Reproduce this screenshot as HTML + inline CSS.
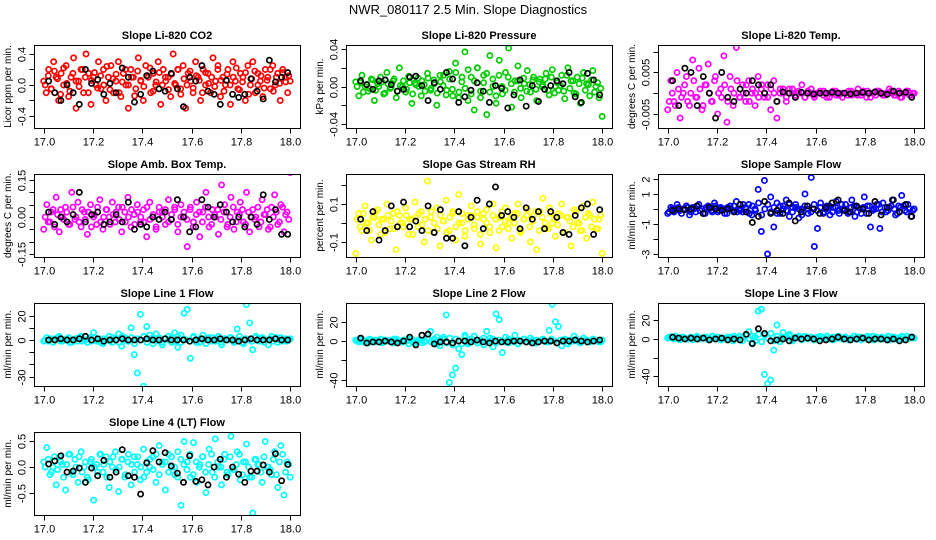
<!DOCTYPE html>
<html><head><meta charset="utf-8"><style>
body{margin:0;background:#fff;}
svg{display:block;font-family:"Liberation Sans",sans-serif;}
</style></head><body>
<svg id="chart" width="936" height="540" viewBox="0 0 936 540" xmlns="http://www.w3.org/2000/svg">
<rect width="936" height="540" fill="#fff"/>
<text x="468" y="14" text-anchor="middle" font-size="13">NWR_080117  2.5 Min. Slope Diagnostics</text>
</svg>
<script>
const xTicks = [17.0,17.2,17.4,17.6,17.8,18.0];
const xTickLabels = ["17.0","17.2","17.4","17.6","17.8","18.0"];

const co2Vals = [0.05,-0.1,0.2,-0.05,0.3,0.1,-0.2,0.15,0.0,0.25,-0.15,0.1,0.35,-0.3,0.05,0.2,-0.1,0.4,0.15,-0.25,0.1,0.0,0.3,-0.05,0.2,-0.2,0.1,0.25,-0.1,0.05,0.3,-0.15,0.15,0.0,-0.3,0.2,0.1,-0.05,0.35,0.05,-0.2,0.25,0.1,-0.1,0.15,0.0,0.3,-0.25,0.2,0.05,0.1,-0.15,0.4,0.0,0.2,-0.05,0.25,-0.3,0.15,0.05,-0.1,0.3,0.1,-0.2,0.2,0.0,0.15,-0.1,0.35,0.05,0.25,-0.15,0.1,0.0,0.2,-0.25,0.3,0.05,-0.05,0.15,0.1,-0.2,0.25,0.0,0.3,-0.1,0.15,0.05,-0.15,0.2,0.1,-0.05,0.25,0.0,0.15,-0.2,0.2,0.1,-0.1,0.05];
const co2Core = [0.0,0.12,-0.05,0.18,0.08,-0.12,0.22,0.02,-0.08,0.15,0.05,-0.02,0.2,0.1,-0.1,0.06,0.16,-0.04,0.12,0.0,0.24,-0.06,0.08,0.14,-0.1,0.04,0.2,0.0,0.1,-0.14,0.18,0.06,-0.02,0.12,0.22,-0.08,0.04,0.16,0.0,0.1,-0.06,0.14,0.02,0.2,-0.12,0.08,0.0,0.18,-0.04,0.12,0.06,-0.1,0.16,0.02,0.1,-0.02,0.2,0.06,-0.08,0.14,0.0,0.1,0.22,-0.06,0.04,0.16,-0.12,0.08,0.18,0.0,0.12,-0.04,0.06,0.2,-0.08,0.1,0.02,0.16,0.04,0.12];
const pressVals = [0.005,-0.01,0.012,0.0,-0.005,0.008,-0.015,0.003,0.01,-0.008,0.015,-0.002,0.006,-0.012,0.02,0.0,-0.006,0.011,-0.018,0.004,0.009,-0.01,0.002,0.014,-0.004,0.007,-0.02,0.012,0.001,-0.009,0.016,-0.003,0.025,-0.012,0.005,0.037,-0.015,0.01,-0.025,0.02,-0.005,0.012,-0.03,0.033,0.0,-0.018,0.028,-0.008,0.015,0.041,-0.022,0.006,0.022,-0.012,0.003,0.017,-0.006,0.01,-0.015,0.008,0.002,0.014,-0.009,0.018,0.0,-0.004,0.012,-0.013,0.02,0.006,-0.007,0.01,-0.018,0.015,0.003,-0.01,0.017,0.0,-0.012,-0.032];
const pressCore = [0.0,0.004,-0.006,0.002,-0.002,0.007,-0.004,0.0,0.005,-0.007,0.003,-0.001,0.008,-0.005,0.001,0.006,-0.003,0.004,-0.008,0.002,0.0,0.006,-0.005,0.009,-0.002,0.003,-0.007,0.005,0.012,-0.004,0.008,-0.01,0.015,-0.006,0.01,-0.002,0.018,-0.008,0.006,0.02,-0.012,0.004,0.014,-0.006,0.008,-0.01,0.012,0.0,-0.004,0.01,0.003,-0.006,0.006,-0.002,0.009,-0.005,0.002,0.007,-0.003,0.005,0.0,0.008,-0.004,0.01,-0.007,0.004,0.001,-0.005,0.012,-0.002,0.006,-0.008,0.003,0.009,-0.004,0.002,0.007,-0.006,0.004,-0.002];
const tempVals = [-0.004,0.003,-0.002,0.005,-0.006,0.0,0.004,-0.003,0.008,-0.001,0.006,-0.004,0.002,0.007,-0.002,0.003,-0.005,0.001,0.009,-0.007,0.004,-0.003,0.011,-0.001,0.002,-0.002,0.003,0.0,-0.003,0.004,0.001,-0.001,0.002,-0.004,0.003,-0.006,0.0,0.001,-0.002,0.0,0.001,-0.001,0.0,0.002,-0.001,0.0,0.001,-0.001,0.0,0.0,0.0005,-0.001,0.0,0.0005,-0.0005,0.0,-0.001,0.0,0.0005,-0.0005,0.0,0.001,-0.0005,0.0,0.0005,-0.001,0.0,0.0005,0.0,-0.0005,0.0,0.001,0.0,-0.0005,0.0005,-0.001,0.0,0.0005,-0.0005,0.0];
const tempCore = [-0.002,0.0,-0.003,0.001,-0.001,0.002,-0.002,0.0,0.003,-0.001,0.001,-0.003,0.002,0.0,-0.002,0.004,0.0,-0.001,0.002,-0.002,0.001,0.0,0.003,-0.001,0.0,0.002,-0.002,0.001,0.0,-0.001,0.002,0.0,-0.001,0.001,0.0,-0.002,0.001,0.0,-0.001,0.001,0.0,-0.0005,0.0005,0.0,-0.001,0.0005,0.0,-0.0005,0.0,0.0005,-0.0005,0.0,-0.001,0.0,0.0005,-0.0005,0.0,0.0,-0.0005,0.0005,0.0,-0.0005,0.0,0.0005,-0.001,0.0,0.0,-0.0005,0.0005,0.0,-0.0005,0.0,0.0005,-0.0005,0.0,-0.001,0.0,0.0005,-0.0005,0.0];
const ambVals = [-0.05,0.05,-0.02,0.03,0.08,-0.06,0.0,0.04,-0.03,0.1,-0.01,0.06,-0.04,0.02,-0.07,0.05,0.0,-0.03,0.07,-0.05,0.03,0.0,0.06,-0.02,0.04,-0.06,0.02,0.08,-0.04,0.01,0.05,-0.02,0.03,-0.08,0.06,0.0,-0.05,0.04,0.02,-0.03,0.07,-0.01,0.03,-0.06,0.05,0.0,-0.12,0.04,-0.02,0.06,-0.08,0.02,0.1,-0.04,0.03,0.0,-0.07,0.13,0.05,-0.03,0.08,-0.05,0.02,0.06,-0.02,0.1,-0.06,0.03,0.0,-0.04,0.07,0.01,-0.05,0.04,0.09,-0.03,0.05,-0.06,0.02,0.18];
const ambCore = [0.0,-0.02,0.02,-0.04,0.01,0.03,-0.01,0.02,-0.03,0.04,0.0,-0.02,0.03,-0.01,0.02,-0.04,0.01,0.04,-0.02,0.0,0.03,-0.03,0.01,0.02,-0.01,0.04,-0.02,0.0,0.03,-0.03,0.02,0.0,-0.02,0.04,-0.01,0.01,-0.04,0.02,0.0,0.03,-0.02,0.01,0.04,-0.03,0.0,0.02,-0.01,0.03,-0.04,0.01,0.02,-0.02,0.04,0.0,-0.03,0.01,0.03,-0.01,0.02,-0.04,0.0,0.04,-0.02,0.01,0.03,-0.03,0.02,0.0,-0.01,0.04,-0.02,0.01,0.03,-0.04,0.0,0.02,-0.02,0.04,0.01,-0.01];
const rhVals = [-0.16,0.05,-0.04,0.09,0.0,-0.09,0.03,0.07,-0.06,0.02,0.1,-0.03,0.05,-0.14,0.04,0.0,0.08,-0.06,0.02,0.11,-0.02,0.06,-0.1,0.22,0.03,-0.05,0.08,-0.12,0.01,0.12,-0.04,0.05,-0.09,0.15,0.0,-0.07,0.04,0.09,-0.03,0.06,-0.11,0.02,0.07,-0.05,0.1,-0.13,0.03,-0.02,0.08,0.0,-0.08,0.05,0.1,-0.04,0.02,0.07,-0.1,0.04,-0.14,0.06,0.13,-0.03,0.08,0.0,-0.07,0.05,0.1,-0.05,0.03,-0.12,0.07,0.0,-0.04,0.09,-0.08,0.04,0.11,-0.03,0.02,-0.16];
const rhCore = [0.02,-0.02,0.05,0.0,-0.04,0.03,0.06,-0.01,0.02,-0.05,0.04,0.01,-0.03,0.06,0.0,-0.02,0.04,0.02,-0.06,0.03,0.05,-0.01,0.02,-0.04,0.06,0.0,-0.03,0.04,0.01,-0.05,0.03,0.06,-0.02,0.0,0.05,-0.04,0.02,0.04,-0.01,0.03,-0.06,0.05,0.0,-0.02,0.04,0.02,-0.04,0.06,0.01,-0.03,0.03,0.0,0.05,-0.05,0.02,0.04,-0.02,0.01,0.06,-0.04,0.03,0.0,-0.03,0.05,0.02,-0.01,0.04,-0.05,0.03,0.01,-0.02,0.06,0.0,-0.04,0.03,0.05,-0.02,0.02,-0.03,0.04];
const sfVals = [-0.3,0.1,-0.2,0.3,-0.1,0.0,0.2,-0.4,0.1,-0.2,0.3,0.0,-0.3,0.2,-0.1,0.4,-0.2,0.1,0.0,-0.3,0.2,-0.1,0.5,0.0,-0.2,0.1,0.3,-0.4,0.0,1.3,-1.5,1.9,-3.0,0.8,-1.2,0.4,-0.3,0.2,0.6,-0.5,0.1,0.3,-0.6,0.0,1.0,-0.3,2.1,-2.5,-1.3,0.4,-0.2,0.2,-0.4,0.1,0.5,-0.3,0.0,0.3,-0.2,0.6,-0.5,0.1,-0.3,0.8,0.2,-1.2,0.0,0.3,-1.3,0.4,-0.2,0.1,0.6,-0.4,0.2,0.9,-0.1,0.3,-0.5,0.0];
const sfCore = [-0.2,0.0,-0.1,0.1,-0.3,0.0,0.1,-0.2,0.0,0.2,-0.1,-0.3,0.1,0.0,-0.2,0.2,-0.1,0.0,-0.3,0.1,0.0,0.2,-0.2,-0.1,0.3,0.0,-0.3,0.2,-0.1,0.4,-0.4,0.0,0.3,-0.2,0.1,-0.3,0.2,0.0,-0.1,0.3,-0.2,0.1,0.0,-0.4,0.2,0.0,-0.2,0.3,-0.1,0.1,-0.3,0.0,0.2,-0.2,0.1,-0.1,0.3,0.0,-0.3,0.1,0.2,-0.2,0.0,0.1,-0.3,0.2,-0.1,0.0,0.3,-0.2,0.1,-0.1,0.2,0.0,-0.3,0.1,0.2,-0.2,0.0,-0.1];
const l1Vals = [-1,2,0,-2,1,3,-1,0,2,-2,1,-1,3,0,-2,2,6,-1,1,-3,0,3,-2,1,5,-5,2,-1,10,-12,-27,21,-38,11,4,-3,5,2,-4,1,3,-2,6,-6,4,22,25,-15,3,-2,1,4,-3,0,2,-1,3,-4,1,0,2,-2,9,0,-3,29,14,-8,3,-1,2,0,-4,3,1,-2,2,0,-1,1];
const l1Core = [0,-1,1,0,2,-1,0,1,-2,0,1,2,-1,0,1,-1,2,0,-2,1,0,-1,2,1,-2,3,0,-1,2,-3,1,0,3,-2,1,2,-1,0,-2,1,0,2,-1,3,-2,1,0,-1,2,0,-2,1,0,2,-1,0,1,-2,1,0,2,-1,0,3,-2,1,0,-1,2,0,1,-2,0,1,-1,2,0,-1,1,0];
const l2Vals = [1,-1,2,0,-2,1,-1,0,2,-1,0,1,-2,2,0,-1,1,-3,2,-2,0,1,-1,3,10,-1,4,-5,2,27,-43,-35,-28,-8,-14,6,-3,2,5,-2,1,-4,10,3,-6,28,22,-12,4,-2,1,6,-3,0,2,-1,3,-2,1,0,2,-1,11,38,20,15,-5,2,-3,1,5,0,-2,3,1,-1,2,0,-1,1];
const l2Core = [0,1,-1,0,2,-1,1,0,-2,1,0,-1,2,0,-1,1,0,2,-1,0,1,-2,0,3,-1,2,-3,1,4,-2,3,-4,2,0,-3,4,-1,2,0,-2,1,3,-1,0,2,-2,1,0,-1,2,0,-1,1,0,2,-1,0,1,-2,0,1,0,-1,2,0,-2,1,0,1,-1,0,2,-1,0,1,-1,0,1,0,-1];
const l3Vals = [1,2,0,1,-1,2,0,1,-1,2,0,1,2,-1,0,1,2,-1,0,1,2,-2,1,3,-2,4,8,-4,2,30,32,-38,-48,-44,-12,15,-3,7,2,5,-2,1,3,-1,2,0,1,-1,2,0,1,3,0,-1,2,1,0,2,-1,1,0,2,-1,1,3,0,-1,2,1,0,1,-1,2,0,1,3,-1,0,2,1];
const l3Core = [2,1,3,0,2,1,0,2,1,3,0,1,2,0,3,1,2,0,1,2,0,3,1,-1,2,4,0,3,-2,5,-3,4,1,6,-2,3,0,2,1,3,0,2,1,0,3,1,2,0,1,3,2,0,1,2,0,3,1,2,0,1,3,0,2,1,0,2,3,1,0,2,1,3,0,2,1,0,2,3,1,2];
const l4Vals = [0.1,0.38,-0.15,0.0,-0.35,0.2,0.05,-0.45,0.25,-0.1,0.15,-0.3,0.3,0.0,-0.2,0.1,-0.65,0.05,0.25,-0.1,0.2,-0.4,0.0,0.3,-0.48,0.15,-0.2,0.1,-0.35,0.2,0.05,-0.25,0.35,-0.1,0.0,0.2,-0.3,0.42,0.1,-0.45,0.25,0.0,-0.15,0.3,-0.75,0.5,0.1,-0.2,0.48,-0.3,0.05,0.2,-0.5,0.35,-0.1,0.55,0.0,-0.35,0.25,-0.15,0.6,-0.05,0.3,-0.25,0.1,0.45,-0.2,-0.9,0.15,0.05,-0.3,0.5,0.0,-0.15,0.3,-0.4,0.42,-0.55,0.1,-0.2];
const l4Core = [0.0,0.15,-0.1,0.2,-0.05,0.1,-0.2,0.05,0.25,-0.15,0.0,0.2,-0.1,0.1,-0.25,0.15,0.0,-0.1,0.25,0.05,-0.2,0.1,0.2,-0.05,0.0,0.15,-0.15,0.25,0.05,-0.1,0.2,0.0,-0.2,0.1,0.15,-0.05,0.25,-0.15,0.05,0.1,-0.1,0.2,0.0,-0.2,0.15,0.05,-0.05,0.25,-0.15,0.1,0.0,0.2,-0.1,0.05,0.25,-0.2,0.1,0.0,0.15,-0.1,0.2,-0.05,0.05,0.25,-0.15,0.1,0.0,-0.2,0.15,0.05,-0.1,0.2,0.0,-0.05,0.15,-0.15,0.1,0.25,-0.1,0.05];

const co2Ref = [0.05,-0.1,-0.2,0.0,-0.1,-0.25,0.2,0.02,0.07,-0.12,0.02,-0.1,0.22,0.1,-0.22,-0.12,0.12,0.18,-0.05,-0.08,0.15,-0.05,-0.28,0.1,0.05,0.25,-0.08,-0.12,-0.25,0.06,-0.12,-0.16,-0.12,0.08,-0.08,-0.18,0.32,0.04,0.1,0.16];
const pressRef = [0.006,0.002,-0.003,0.006,0.007,0.002,-0.005,-0.003,0.01,0.011,0.001,-0.015,0.004,-0.003,0.015,0.008,-0.017,-0.011,-0.004,0.004,-0.005,-0.017,0.001,-0.002,-0.023,-0.009,0.007,-0.021,0.001,-0.016,-0.003,0.001,0.006,0.003,0.015,-0.011,-0.017,0.014,0.007,-0.009];
const tempRef = [0.003,-0.003,0.006,0.005,-0.003,0.004,0.0,-0.006,0.005,-0.001,-0.002,0.001,0.0,0.003,0.002,0.0,0.002,-0.002,0.0003,0.0,-0.001,0.0002,0.0,-0.0002,0.0,0.0,0.0002,0.0,0.0,-0.0002,0.0,0.0002,0.0,0.0003,0.0,-0.0003,0.0005,0.0,0.0002,-0.001];
const ambRef = [0.02,-0.03,0.0,-0.02,0.01,0.1,-0.02,0.01,0.02,-0.03,-0.02,0.01,-0.02,0.06,-0.05,-0.03,-0.04,0.0,-0.01,0.02,-0.01,0.07,0.0,-0.06,-0.04,0.07,0.04,0.0,0.05,0.02,-0.02,0.0,-0.04,0.0,-0.03,0.09,-0.01,0.03,-0.07,-0.07];
const rhRef = [0.02,-0.04,0.06,-0.09,-0.04,0.09,-0.02,0.11,-0.02,0.01,-0.04,0.09,-0.05,0.07,-0.08,-0.08,0.06,-0.12,0.03,0.12,-0.03,0.1,0.19,0.04,0.06,0.03,-0.03,0.08,0.02,0.06,-0.03,0.06,0.03,-0.05,-0.06,0.04,0.08,0.1,-0.06,0.07];
const sfRef = [-0.1,0.0,-0.05,0.0,0.2,-0.3,0.1,0.0,-0.1,0.0,-0.2,0.3,-0.2,-0.9,-0.5,0.5,-0.3,-0.1,-0.3,0.4,-0.8,-0.2,0.2,0.0,-0.3,0.1,0.4,0.6,-0.1,-0.2,0.2,0.0,-0.3,0.5,-0.4,0.1,0.6,-0.2,0.3,-0.5];
const l1Ref = [0,0,1,0,0,1,3,0,1,-1,0,0,1,0,0,0,1,0,0,1,0,0,0,-1,0,1,0,0,1,0,0,-1,0,1,0,0,0,1,0,0];
const l2Ref = [3,-2,-1,-1,0,-1,-2,0,4,-4,6,7,-3,-1,-1,-2,0,0,-1,1,-1,-2,0,-1,-1,0,0,-1,-2,-1,0,0,-2,0,0,1,0,-1,0,1];
const l3Ref = [2,1,0,1,0,1,-1,0,1,-1,0,-1,5,-5,11,6,-2,-1,0,-2,1,0,1,0,-2,-1,0,2,0,-1,0,1,-1,0,0,-1,0,-2,-1,2];
const l4Ref = [0.06,0.12,0.22,-0.1,-0.08,-0.02,-0.3,-0.02,-0.17,0.13,-0.2,-0.1,0.34,-0.17,-0.2,-0.53,0.08,0.32,0.1,0.28,0.02,-0.12,-0.3,0.22,-0.28,-0.25,-0.35,0.0,0.15,-0.2,0.0,-0.14,-0.3,-0.08,-0.08,0.04,-0.1,0.26,-0.27,0.05];

const panels = [
 {name:"co2",title:"Slope Li-820 CO2",ylab:"Licor ppm per min.",col:0,row:0,color:"#ff0000",vals:co2Vals,core:co2Core,ref:co2Ref,ymin:-0.555,ymax:0.516,ticks:[-0.4,-0.2,0,0.2,0.4],labels:{"-0.4":"-0.4","0":"0.0","0.4":"0.4"}},
 {name:"pressure",title:"Slope Li-820 Pressure",ylab:"kPa per min.",col:1,row:0,color:"#00cc00",vals:pressVals,core:pressCore,ref:pressRef,ymin:-0.0443,ymax:0.0443,ticks:[-0.04,-0.02,0,0.02,0.04],labels:{"-0.04":"-0.04","0":"0.00","0.04":"0.04"}},
 {name:"temp",title:"Slope Li-820 Temp.",ylab:"degrees C per min.",col:2,row:0,color:"#ff00ff",vals:tempVals,core:tempCore,ref:tempRef,ymin:-0.0084,ymax:0.0116,ticks:[-0.005,0,0.005,0.01],labels:{"-0.005":"-0.005","0.005":"0.005"}},
 {name:"amb-box-temp",title:"Slope Amb. Box Temp.",ylab:"degrees C per min.",col:0,row:1,color:"#ff00ff",vals:ambVals,core:ambCore,ref:ambRef,ymin:-0.162,ymax:0.1743,ticks:[-0.15,-0.1,-0.05,0,0.05,0.1,0.15],labels:{"-0.15":"-0.15","0":"0.00","0.15":"0.15"}},
 {name:"gas-stream-rh",title:"Slope Gas Stream RH",ylab:"percent per min.",col:1,row:1,color:"#ffff00",vals:rhVals,core:rhCore,ref:rhRef,ymin:-0.179,ymax:0.258,ticks:[-0.1,0,0.1,0.2],labels:{"-0.1":"-0.1","0.1":"0.1"}},
 {name:"sample-flow",title:"Slope Sample Flow",ylab:"ml/min per min.",col:2,row:1,color:"#0000ff",vals:sfVals,core:sfCore,ref:sfRef,ymin:-3.2,ymax:2.33,ticks:[-3,-2,-1,0,1,2],labels:{"-3":"-3","-1":"-1","1":"1","2":"2"}},
 {name:"line1-flow",title:"Slope Line 1 Flow",ylab:"ml/min per min.",col:0,row:2,color:"#00ffff",vals:l1Vals,core:l1Core,ref:l1Ref,ymin:-37.7,ymax:30.3,ticks:[-30,-20,-10,0,10,20],labels:{"-30":"-30","0":"0","20":"20"}},
 {name:"line2-flow",title:"Slope Line 2 Flow",ylab:"ml/min per min.",col:1,row:2,color:"#00ffff",vals:l2Vals,core:l2Core,ref:l2Ref,ymin:-46.5,ymax:39.3,ticks:[-40,-20,0,20],labels:{"-40":"-40","0":"0","20":"20"}},
 {name:"line3-flow",title:"Slope Line 3 Flow",ylab:"ml/min per min.",col:2,row:2,color:"#00ffff",vals:l3Vals,core:l3Core,ref:l3Ref,ymin:-50.4,ymax:38.6,ticks:[-40,-20,0,20],labels:{"-40":"-40","0":"0","20":"20"}},
 {name:"line4-flow",title:"Slope Line 4 (LT) Flow",ylab:"ml/min per min.",col:0,row:3,color:"#00ffff",vals:l4Vals,core:l4Core,ref:l4Ref,ymin:-0.94,ymax:0.686,ticks:[-0.5,0,0.5],labels:{"-0.5":"-0.5","0":"0.0","0.5":"0.5"}}
];

const NS = "http://www.w3.org/2000/svg";
const svg = document.getElementById("chart");
const colLeft = [34,346,658], rowTop = [45,174,303,432], W = 266, H = 83;
function mk(tag, attrs, parent){
  const e = document.createElementNS(NS, tag);
  for (const k in attrs) e.setAttribute(k, attrs[k]);
  parent.appendChild(e);
  return e;
}
panels.forEach(p => {
  const L = colLeft[p.col], T = rowTop[p.row];
  const xs = x => L + 9.7 + (x - 17) * 246.5;
  const ys = v => T + (p.ymax - v) / (p.ymax - p.ymin) * H;
  const g = mk("g", {}, svg);
  
  
  const t = mk("text", {x: L + W/2, y: T - 6, "text-anchor":"middle", "font-size":"11", "font-weight":"bold"}, g);
  t.textContent = p.title;
  
  
  const clip = mk("clipPath", {id:"c-" + p.name}, g);
  mk("rect", {x:L, y:T, width:W, height:H}, clip);
  const pts = mk("g", {"clip-path":"url(#c-" + p.name + ")", fill:"none", "stroke-width":"1.7"}, g);
  
  
  const n = p.vals.length;
  p.vals.forEach((v, i) => {
    const c = mk("circle", {cx: xs(17 + i/(n-1)), cy: ys(v), r: 2.6, stroke: p.color}, pts);
    
    
  });
  const nc = p.core.length;
  p.core.forEach((v, i) => {
    const c = mk("circle", {cx: xs(17.006 + i*0.988/(nc-1)), cy: ys(v), r: 2.6, stroke: p.color}, pts);
    
    
  });
  const m = p.ref.length;
  p.ref.forEach((v, i) => {
    const c = mk("circle", {cx: xs(17.02 + i*0.97/(m-1)), cy: ys(v), r: 2.6, stroke: "#000"}, pts);
    
    
  });
  const box = mk("rect", {x:L+0.5, y:T+0.5, width:W, height:H, fill:"none", stroke:"#000", "stroke-width":"1"}, g);
  
  
  const xb = T + H + 0.5;
  mk("line", {x1: xs(17), x2: xs(18), y1: xb, y2: xb, stroke:"#000"}, g);
  xTicks.forEach((tv, i) => {
    const x = Math.round(xs(tv)) + 0.5;
    mk("line", {x1:x, x2:x, y1:xb, y2:xb+5, stroke:"#000"}, g);
    const lb = mk("text", {x:x, y:xb+17, "text-anchor":"middle", "font-size":"11"}, g);
    lb.textContent = xTickLabels[i];
    
    
  });
  const yl = L + 0.5;
  mk("line", {x1:yl, x2:yl, y1:ys(p.ticks[0]), y2:ys(p.ticks[p.ticks.length-1]), stroke:"#000"}, g);
  p.ticks.forEach(tv => {
    const y = Math.round(ys(tv)) + 0.5;
    mk("line", {x1:yl-5, x2:yl, y1:y, y2:y, stroke:"#000"}, g);
    const key = String(tv);
    if (p.labels[key] !== undefined) {
      const lb = mk("text", {x:0, y:0, "text-anchor":"middle", "font-size":"11", transform:"translate(" + (yl-9) + "," + y + ") rotate(-90)"}, g);
      lb.textContent = p.labels[key];
      
      
    }
  });
  const yt = mk("text", {x:0, y:0, "text-anchor":"middle", "font-size":"10", transform:"translate(" + (L-23) + "," + (T+H/2) + ") rotate(-90)"}, g);
  yt.textContent = p.ylab;
  
  
});
</script>
</body></html>
